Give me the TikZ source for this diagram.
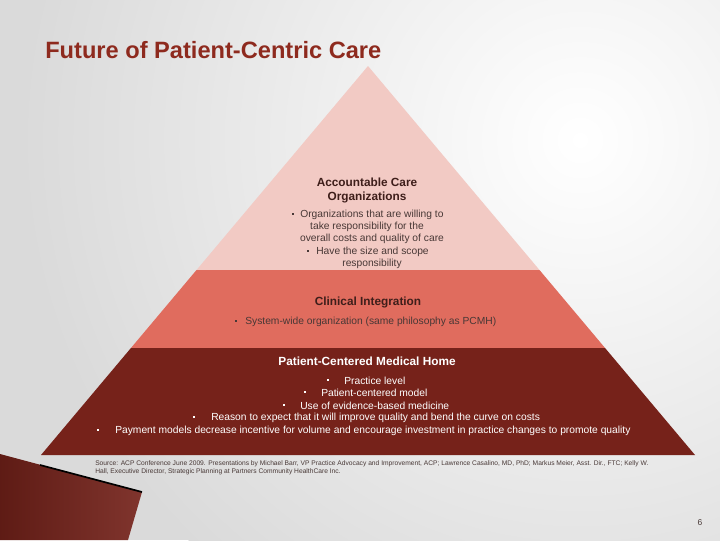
\documentclass[tikz,border=0pt]{standalone}
\usepackage{fontspec}
\setmainfont{Liberation Sans}
\usepackage{tikz}
\usetikzlibrary{positioning}

\definecolor{titleRed}{RGB}{142,42,30}
\definecolor{topPink}{RGB}{242,202,196}
\definecolor{midSalmon}{RGB}{224,108,94}
\definecolor{baseRed}{RGB}{118,34,26}
\definecolor{bgGray}{RGB}{218,218,218}
\definecolor{textDark}{RGB}{62,30,26}
\definecolor{textGray}{RGB}{72,56,54}

\begin{document}
\begin{tikzpicture}[x=0.025cm, y=-0.025cm]
  % Set the node styles
  \tikzset{heading/.style={font=\fontsize{8.4}{10}\selectfont\bfseries, inner sep=0pt, align=center},
           item/.style={font=\fontsize{7.3}{9}\selectfont, inner sep=0pt},
           bul/.style={rectangle, fill, minimum size=2pt, inner sep=0pt}}

  \useasboundingbox (0,0) rectangle (720,540);

  % Draw the background
  \fill[bgGray] (0,0) rectangle (720,540);
  \begin{scope}
    \clip (0,0) rectangle (720,540);
    \shade[inner color=white, outer color=bgGray] (580,140) circle (560);
  \end{scope}

  % Draw the corner swoosh
  \shade[left color=baseRed!80!black, right color=baseRed!90!bgGray] (0,454) -- (142,492) -- (128,540) -- (0,540) -- cycle;
  \draw[black, line width=1.2pt] (40,465) -- (142,492);

  % Draw the title
  \node[anchor=west, inner sep=0pt, text=titleRed, font=\fontsize{16.8}{20}\selectfont\bfseries] (title) at (45,50) {Future of Patient-Centric Care};

  % Draw the pyramid layers
  \coordinate (apex) at (368,66);
  \coordinate (baseL) at (41,455);
  \coordinate (baseR) at (695,455);
  \begin{scope}
    \clip (apex) -- (baseR) -- (baseL) -- cycle;
    \fill[topPink] (0,60) rectangle (720,270);
    \fill[midSalmon] (0,270) rectangle (720,348);
    \fill[baseRed] (0,348) rectangle (720,456);
  \end{scope}

  % Top layer
  \node[heading, text=textDark] (aco) at (367,190) {Accountable Care\\Organizations};
  \node[item, text=textGray, anchor=west] (aco1) at (300,215) {Organizations that are willing to};
  \node[bul, fill=textGray] (aco1b) at (293,214) {};
  \node[item, text=textGray] (aco2) at (367,227) {take responsibility for the};
  \node[item, text=textGray] (aco3) at (372,239) {overall costs and quality of care};
  \node[item, text=textGray, anchor=west] (aco4) at (316,252) {Have the size and scope};
  \node[bul, fill=textGray] (aco4b) at (308,251) {};
  \node[item, text=textGray] (aco5) at (372,264) {responsibility};

  % Middle layer
  \node[heading, text=textDark] (ci) at (368,302) {Clinical Integration};
  \node[item, text=textGray, anchor=west] (ci1) at (245,322) {System-wide organization (same philosophy as PCMH)};
  \node[bul, fill=textGray] (ci1b) at (236,321) {};

  % Bottom layer
  \node[heading, text=white] (pcmh) at (367,361) {Patient-Centered Medical Home};
  \foreach \n/\bx/\tx/\y/\txt in {pc1/328/344/381/Practice level,
                                  pc2/305/321/393/Patient-centered model,
                                  pc3/284/300/406/Use of evidence-based medicine,
                                  pc4/194/211/418/Reason to expect that it will improve quality and bend the curve on costs,
                                  pc5/98/115/431/Payment models decrease incentive for volume and encourage investment in practice changes to promote quality}{
    \node[bul, fill=white] (\n b) at (\bx,\y-1) {};
    \node[item, text=white, anchor=west] (\n) at (\tx,\y) {\txt};
  }

  % Source and page number
  \node[anchor=north west, inner sep=0pt, align=left, text=textGray, font=\fontsize{4.75}{5.8}\selectfont] (source) at (95,460)
    {Source: ACP Conference June 2009. Presentations by Michael Barr, VP Practice Advocacy and Improvement, ACP; Lawrence Casalino, MD, PhD; Markus Meier, Asst. Dir., FTC; Kelly W.\\
     Hall, Executive Director, Strategic Planning at Partners Community HealthCare Inc.};
  \node[inner sep=0pt, text=textGray, font=\fontsize{6}{7}\selectfont] (page) at (700,523) {6};
\end{tikzpicture}
\end{document}
